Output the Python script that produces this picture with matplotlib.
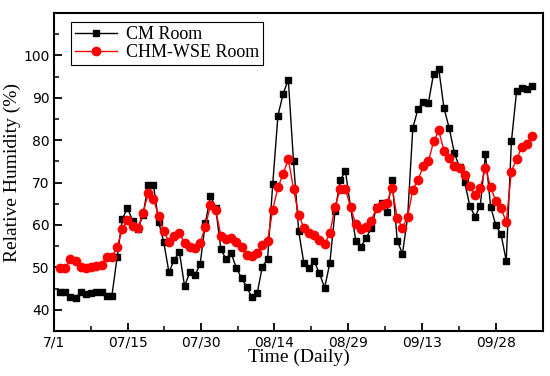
import matplotlib
matplotlib.use("Agg")
import matplotlib.pyplot as plt
import numpy as np

# ---- data ----
cm_room = [44.3, 44.3, 42.9, 42.7, 44.3, 43.7, 43.9, 44.1, 44.3, 43.3,
           43.3, 52.4, 61.4, 64.0, 61.0, 59.0, 62.4, 69.5, 69.5, 60.8,
           55.9, 48.8, 51.8, 53.7, 45.6, 48.8, 48.2, 50.7, 60.4, 66.9,
           64.0, 54.3, 51.9, 53.3, 49.8, 47.5, 45.3, 42.9, 43.9, 50.2,
           51.9, 69.7, 85.8, 90.9, 94.3, 75.0, 58.5, 51.0, 49.8, 51.4,
           48.6, 45.2, 51.0, 63.2, 70.5, 72.8, 64.2, 56.3, 54.9, 56.9,
           59.3, 64.2, 65.3, 63.0, 70.7, 56.3, 53.2, 61.9, 82.9, 87.4,
           89.0, 88.8, 95.7, 96.8, 87.6, 82.9, 77.0, 73.6, 70.1, 64.4,
           62.0, 64.5, 76.7, 64.3, 59.9, 57.8, 51.6, 79.7, 91.6, 92.4,
           92.1, 92.9]
chm_wse_room = [49.8, 49.8, 51.9, 51.5, 50.2, 49.8, 50.2, 50.4, 50.6, 52.4,
                52.4, 54.8, 59.0, 61.2, 59.8, 59.3, 62.8, 67.5, 66.1, 62.2,
                58.5, 56.1, 57.3, 58.1, 55.7, 54.9, 54.5, 55.7, 59.6, 64.6,
                63.6, 57.5, 56.7, 56.9, 56.0, 54.7, 53.0, 52.6, 53.5, 55.3,
                56.3, 63.6, 68.9, 72.0, 75.6, 68.5, 62.4, 59.3, 58.1, 57.7,
                56.4, 55.5, 58.0, 64.2, 68.5, 68.5, 64.2, 60.2, 59.0, 59.5,
                61.0, 64.1, 64.8, 65.2, 68.8, 61.6, 59.3, 62.0, 68.3, 70.7,
                73.8, 75.0, 79.7, 82.3, 77.5, 75.8, 74.0, 73.5, 71.8, 69.3,
                67.0, 68.8, 73.4, 68.9, 65.7, 64.0, 60.7, 72.6, 75.6, 78.3,
                79.2, 81.1]
tick_labels = ["7/1", "07/15", "07/30", "08/14", "08/29", "09/13", "09/28"]
tick_positions = [-0.16, 14.04, 28.2, 42.3, 56.5, 70.8, 85.0]

x = np.arange(1, len(cm_room) + 1)

fig = plt.figure(figsize=(5.5, 3.76), dpi=100)
ax = fig.add_axes([0.0982, 0.1197, 0.8888, 0.8457])

ax.plot(x, cm_room, color="black", lw=1.0, marker="s", markersize=5,
        markerfacecolor="black", markeredgecolor="black", label="CM Room")
ax.plot(x, chm_wse_room, color="red", lw=1.0, marker="o", markersize=6,
        markerfacecolor="red", markeredgecolor="red", label="CHM-WSE Room")

ax.set_xlim(-0.16, 94.06)
ax.set_ylim(35, 110)

ax.set_xticks(tick_positions)
ax.set_xticklabels(tick_labels, fontsize=10, family="DejaVu Sans")
minor = [(a + b) / 2 for a, b in zip(tick_positions[:-1], tick_positions[1:])]
ax.set_xticks(minor, minor=True)
ax.set_yticks([40, 50, 60, 70, 80, 90, 100])
ax.set_yticklabels(["40", "50", "60", "70", "80", "90", "100"], fontsize=10,
                   family="DejaVu Sans")
ax.set_yticks(np.arange(45, 106, 10), minor=True)

ax.tick_params(which="major", direction="in", length=6, width=1.3,
               top=False, right=False, pad=3)
ax.tick_params(which="minor", direction="in", length=3.5, width=1.1,
               top=False, right=False)
for s in ax.spines.values():
    s.set_linewidth(1.5)

ax.set_xlabel("Time (Daily)", family="Liberation Serif", fontsize=14, labelpad=0)
ax.set_ylabel("Relative Humidity (%)", family="Liberation Serif", fontsize=14,
              labelpad=2)

leg = ax.legend(loc="upper left", bbox_to_anchor=(0.0348, 0.9717),
                borderaxespad=0, fancybox=False, framealpha=1,
                edgecolor="black", prop={"family": "Liberation Serif", "size": 13},
                handlelength=2.3, handletextpad=0.5, borderpad=0.22,
                labelspacing=0.05)
leg.get_frame().set_linewidth(0.8)

fig.savefig("out.png", dpi=100)
